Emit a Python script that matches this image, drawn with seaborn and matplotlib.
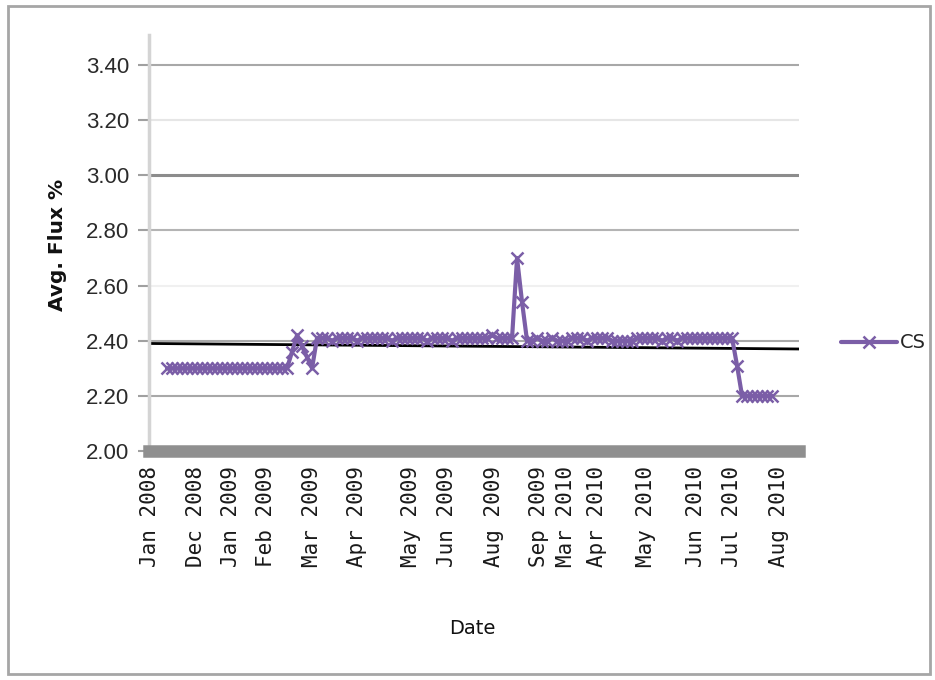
import numpy as np
import pandas as pd
import matplotlib
matplotlib.use("Agg")
import matplotlib.pyplot as plt
from matplotlib.patches import Rectangle
import seaborn as sns

# Data (sample index along the category axis)
cs_flux = [
    2.30, 2.30, 2.30, 2.30, 2.30, 2.30, 2.30, 2.30, 2.30, 2.30,
    2.30, 2.30, 2.30, 2.30, 2.30, 2.30, 2.30, 2.30, 2.30, 2.30,
    2.30, 2.30, 2.30, 2.30, 2.30, 2.36, 2.42, 2.38, 2.34, 2.30,
    2.41, 2.41, 2.41, 2.40, 2.41, 2.41, 2.41, 2.41, 2.40, 2.41,
    2.41, 2.41, 2.41, 2.41, 2.41, 2.40, 2.41, 2.41, 2.41, 2.41,
    2.41, 2.41, 2.40, 2.41, 2.41, 2.41, 2.41, 2.40, 2.41, 2.41,
    2.41, 2.41, 2.41, 2.41, 2.41, 2.42, 2.41, 2.41, 2.41, 2.41,
    2.70, 2.54, 2.40, 2.40, 2.41, 2.40, 2.40, 2.41, 2.40, 2.40,
    2.40, 2.41, 2.41, 2.41, 2.40, 2.41, 2.41, 2.41, 2.41, 2.40,
    2.40, 2.40, 2.40, 2.40, 2.41, 2.41, 2.41, 2.41, 2.41, 2.40,
    2.41, 2.41, 2.40, 2.41, 2.41, 2.41, 2.41, 2.41, 2.41, 2.41,
    2.41, 2.41, 2.41, 2.41, 2.31, 2.20, 2.20, 2.20, 2.20, 2.20,
    2.20, 2.20,
]
sample_idx = list(range(len(cs_flux)))

# black reference line (start / end level)
ref_level = [2.39, 2.37]

date_labels = ["Jan 2008", "Dec 2008", "Jan 2009", "Feb 2009", "Mar 2009",
               "Apr 2009", "May 2009", "Jun 2009", "Aug 2009", "Sep 2009",
               "Mar 2010", "Apr 2010", "May 2010", "Jun 2010", "Jul 2010",
               "Aug 2010"]
date_idx = [-3.4, 5.7, 12.7, 19.7, 29, 38, 48.8, 56, 65.4, 74.4,
            79.8, 86, 95.8, 105.8, 113, 122.4]

y_ticks = [2.00, 2.20, 2.40, 2.60, 2.80, 3.00, 3.20, 3.40]

df = pd.DataFrame({"sample": sample_idx, "CS": cs_flux})

sns.set_style("white")
plt.rcParams["font.family"] = ["DejaVu Sans"]

purple = "#7b5ea7"

fig = plt.figure(figsize=(9.35, 6.8), dpi=100)
ax = fig.add_axes([0.1594, 0.3368, 0.6952, 0.6117])

# gridlines
grid_colors = {2.20: "#a8a8a8", 2.40: "#a8a8a8", 2.60: "#f0f0f0", 2.80: "#b4b4b4",
               3.00: "#8c8c8c", 3.20: "#e6e6e6", 3.40: "#a8a8a8"}
for v, c in grid_colors.items():
    ax.axhline(v, color=c, lw=2.2 if v == 3.00 else 1.5, zorder=1)

ax.plot([0, 1], ref_level, transform=ax.get_yaxis_transform(),
        color="black", lw=2, zorder=2)

sns.lineplot(data=df, x="sample", y="CS", ax=ax, color=purple, lw=3,
             marker="x", markersize=8, markeredgewidth=1.8,
             markeredgecolor=purple, label="CS", zorder=3)

ax.set_xlim(-3.6, 126.4)
ax.set_ylim(2.0, 3.509)

ax.set_yticks(y_ticks)
ax.set_yticklabels([f"{v:.2f}" for v in y_ticks],
                   family=["Liberation Sans Narrow", "Liberation Sans", "DejaVu Sans"],
                   fontsize=16, color="#2a2a2a")
ax.set_xticks(date_idx)
ax.set_xticklabels(date_labels, rotation=90, fontsize=15,
                   family=["DejaVu Sans Mono"], color="#1a1a1a")
ax.tick_params(axis="x", length=0, pad=11)
ax.tick_params(axis="y", length=8, width=1.5, color="#a0a0a0", pad=6, left=True)

for s in ["top", "right"]:
    ax.spines[s].set_visible(False)
ax.spines["left"].set_color("#d4d4d4")
ax.spines["left"].set_linewidth(2.5)
ax.spines["bottom"].set_color("#8f8f8f")
ax.spines["bottom"].set_linewidth(9)

ax.set_xlabel("Date", fontsize=14, color="#111111")
ax.xaxis.set_label_coords(0.498, -0.405)
ax.set_ylabel("Avg. Flux %", fontsize=14.5, fontweight="bold", color="#111111")
ax.yaxis.set_label_coords(-0.126, 0.495)

ax.legend(loc="center left", bbox_to_anchor=(1.064, 0.26), frameon=False,
          fontsize=14, handlelength=2.9, handletextpad=0.15, borderpad=0,
          borderaxespad=0)

fig.patches.append(Rectangle((8 / 935, 6 / 680), 922 / 935, 668 / 680,
                             transform=fig.transFigure, fill=False,
                             edgecolor="#a6a6a6", lw=2))

fig.savefig("out.png", dpi=100)
